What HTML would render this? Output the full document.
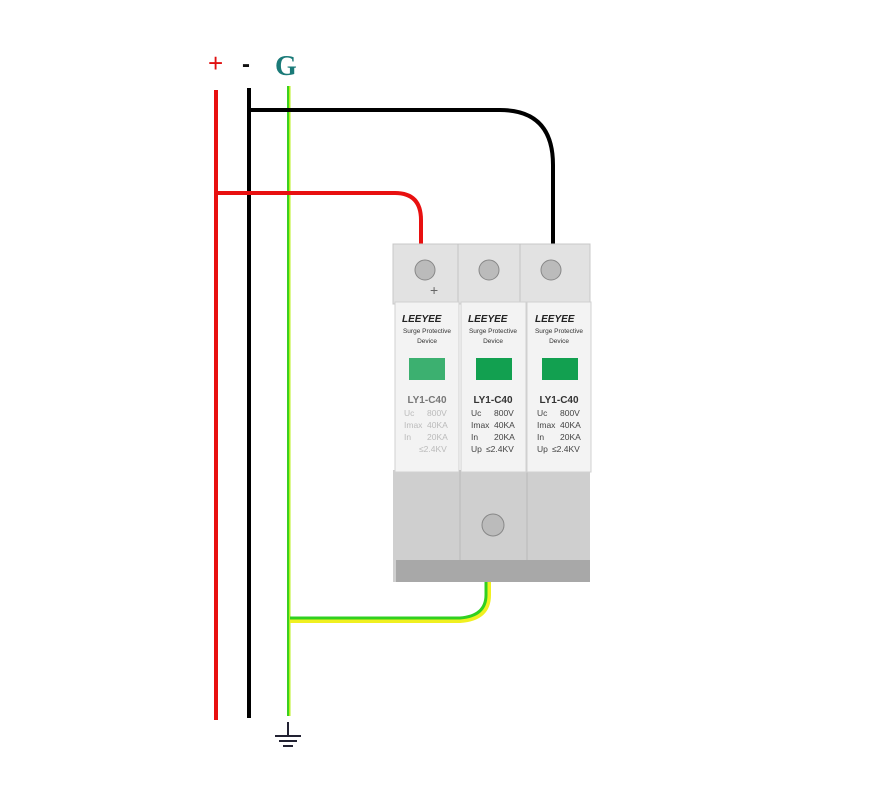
<!DOCTYPE html>
<html><head><style>
body{margin:0;background:#fff;width:871px;height:785px;overflow:hidden}
svg{display:block}
</style></head><body>
<svg width="871" height="785" viewBox="0 0 871 785" font-family="Liberation Sans, sans-serif">
<rect width="871" height="785" fill="#fff"/>
<text x="208" y="72" font-size="26" fill="#e01010">+</text>
<text x="242" y="72" font-size="24" fill="#111" font-weight="bold">-</text>
<text x="275" y="75" font-size="28" fill="#1a7a78" font-weight="bold" style="font-family:'Liberation Serif',serif">G</text>
<line x1="216" y1="90" x2="216" y2="720" stroke="#e81010" stroke-width="4"/>
<line x1="249" y1="88" x2="249" y2="718" stroke="#000" stroke-width="4"/>
<line x1="289" y1="86" x2="289" y2="716" stroke="#b8f020" stroke-width="3"/>
<line x1="288" y1="86" x2="288" y2="716" stroke="#3ad020" stroke-width="2"/>
<path d="M249 110 H500 Q553 110 553 165 V245" fill="none" stroke="#000" stroke-width="4"/>
<path d="M216 193 H395 Q421 193 421 220 V245" fill="none" stroke="#e81010" stroke-width="4"/>
<path d="M290 621 H460 Q489 619 489 595 V580" fill="none" stroke="#f0f020" stroke-width="4"/>
<path d="M290 618 H460 Q486 616 486 595 V580" fill="none" stroke="#30d020" stroke-width="3"/>
<line x1="288" y1="722" x2="288" y2="736" stroke="#223" stroke-width="2"/>
<line x1="275" y1="736" x2="301" y2="736" stroke="#223" stroke-width="2"/>
<line x1="279" y1="741" x2="297" y2="741" stroke="#223" stroke-width="2"/>
<line x1="283" y1="746" x2="293" y2="746" stroke="#223" stroke-width="2"/>
<rect x="393" y="244" width="197" height="60" fill="#e2e2e2" stroke="#c8c8c8"/>
<line x1="458" y1="244" x2="458" y2="304" stroke="#c4c4c4"/>
<line x1="520" y1="244" x2="520" y2="304" stroke="#c4c4c4"/>
<rect x="393" y="470" width="197" height="112" fill="#cfcfcf"/>
<rect x="396" y="560" width="194" height="22" fill="#a8a8a8"/>
<line x1="460" y1="470" x2="460" y2="560" stroke="#b8b8b8"/>
<line x1="527" y1="470" x2="527" y2="560" stroke="#b8b8b8"/>
<g fill="#f3f3f3" stroke="#d0d0d0">
<rect x="395" y="302" width="64" height="170"/>
<rect x="461" y="302" width="65" height="170"/>
<rect x="527" y="302" width="64" height="170"/>
</g>
<g fill="#bbb" stroke="#888">
<circle cx="425" cy="270" r="10"/><circle cx="489" cy="270" r="10"/><circle cx="551" cy="270" r="10"/>
<circle cx="493" cy="525" r="11"/>
</g>
<text x="430" y="295" font-size="14" fill="#666">+</text>
<g font-size="10" fill="#222" font-style="italic" font-weight="bold">
<text x="402" y="322">LEEYEE</text><text x="468" y="322">LEEYEE</text><text x="535" y="322">LEEYEE</text>
</g>
<g font-size="6.5" fill="#333" text-anchor="middle">
<text x="427" y="333">Surge Protective</text><text x="427" y="343">Device</text>
<text x="493" y="333">Surge Protective</text><text x="493" y="343">Device</text>
<text x="559" y="333">Surge Protective</text><text x="559" y="343">Device</text>
</g>
<rect x="409" y="358" width="36" height="22" fill="#3cb070"/>
<rect x="476" y="358" width="36" height="22" fill="#12a050"/>
<rect x="542" y="358" width="36" height="22" fill="#12a050"/>
<g font-size="10" fill="#333" font-weight="bold" text-anchor="middle">
<text x="427" y="403" fill="#777">LY1-C40</text><text x="493" y="403">LY1-C40</text><text x="559" y="403">LY1-C40</text>
</g>
<g font-size="8.5" fill="#444">
<text x="471" y="416">Uc</text><text x="494" y="416">800V</text>
<text x="471" y="428">Imax</text><text x="494" y="428">40KA</text>
<text x="471" y="440">In</text><text x="494" y="440">20KA</text>
<text x="471" y="452">Up</text><text x="486" y="452">≤2.4KV</text>
<text x="537" y="416">Uc</text><text x="560" y="416">800V</text>
<text x="537" y="428">Imax</text><text x="560" y="428">40KA</text>
<text x="537" y="440">In</text><text x="560" y="440">20KA</text>
<text x="537" y="452">Up</text><text x="552" y="452">≤2.4KV</text>
</g>
<g font-size="8.5" fill="#bbb">
<text x="404" y="416">Uc</text><text x="427" y="416">800V</text>
<text x="404" y="428">Imax</text><text x="427" y="428">40KA</text>
<text x="404" y="440">In</text><text x="427" y="440">20KA</text>
<text x="419" y="452">≤2.4KV</text>
</g>
</svg>
</body></html>
